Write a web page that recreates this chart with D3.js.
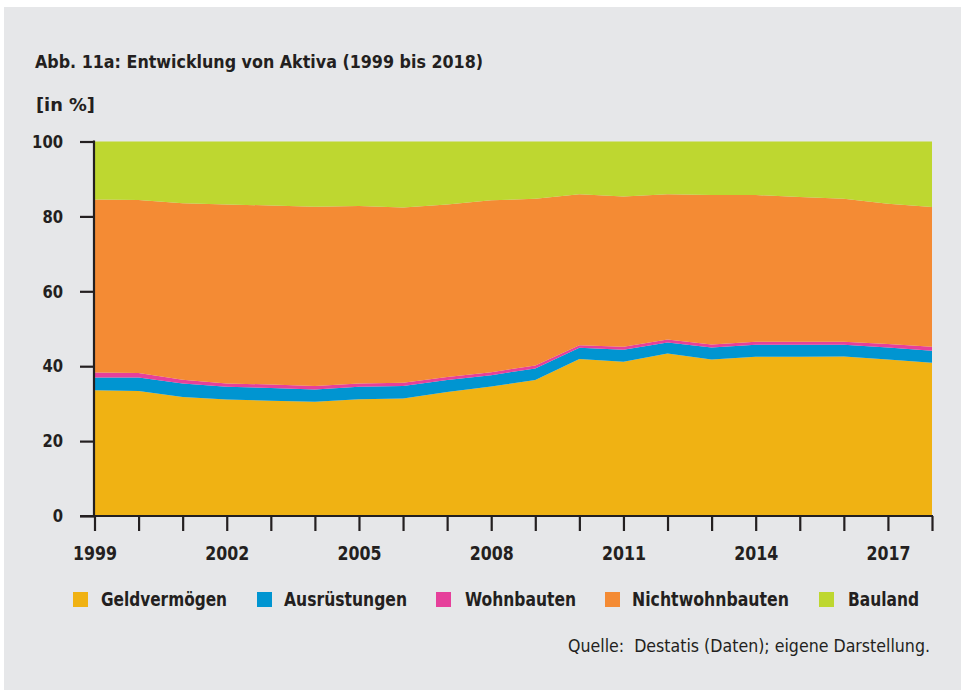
<!DOCTYPE html>
<html><head><meta charset="utf-8">
<script src="https://cdn.jsdelivr.net/npm/d3@7"></script>
<style>
html,body{margin:0;padding:0;background:#fff;}
svg{display:block;}
</style></head>
<body>
<svg id="chart" width="961" height="690"></svg>
<script>
const years = [1999,2000,2001,2002,2003,2004,2005,2006,2007,2008,2009,2010,2011,2012,2013,2014,2015,2016,2017,2018];
const geldvermoegen   = [33.6,33.4,31.8,31.1,30.8,30.5,31.2,31.4,33.1,34.6,36.3,41.9,41.2,43.4,41.8,42.5,42.5,42.6,41.8,40.9];
const ausruestungen   = [3.4,3.6,3.6,3.4,3.4,3.3,3.3,3.3,3.2,3.0,3.1,3.0,3.2,2.9,3.2,3.2,3.2,3.1,3.2,3.2];
const wohnbauten      = [1.3,1.2,1.0,0.9,0.9,0.9,0.9,0.9,0.8,0.8,0.8,0.7,0.8,0.8,0.8,0.8,0.8,0.8,0.9,1.1];
const nichtwohnbauten = [46.2,46.2,47.1,47.8,47.8,47.9,47.4,46.8,46.1,45.9,44.5,40.3,40.1,38.8,39.9,39.2,38.7,38.2,37.5,37.3];
const bauland         = [15.5,15.6,16.5,16.8,17.1,17.4,17.2,17.6,16.8,15.7,15.3,14.1,14.7,14.1,14.3,14.3,14.8,15.3,16.6,17.5];
const seriesNames = ["Geldvermögen","Ausrüstungen","Wohnbauten","Nichtwohnbauten","Bauland"];
const seriesColors = ["#f0b213","#0095d1","#e6409b","#f48b34","#bed730"];
const yTicks = [0,20,40,60,80,100];
const xLabelYears = [1999,2002,2005,2008,2011,2014,2017];

const svg = d3.select("#chart");
const boldFont = "'DejaVu Sans Condensed','DejaVu Sans',sans-serif";
const regFont = "'DejaVu Sans Condensed','DejaVu Sans',sans-serif";
const ink = "#231f20";

function fit(sel, w){
  sel.attr("textLength", w).attr("lengthAdjust","spacingAndGlyphs");
  return sel;
}

svg.append("rect").attr("x",4).attr("y",7).attr("width",957).attr("height",683).attr("fill","#e6e7e9");

const x = d3.scaleLinear().domain([1999,2018]).range([94.5,932]);
const y = d3.scaleLinear().domain([0,100]).range([516,141.5]);

const table = years.map((yr,i)=>({
  year: yr,
  "Geldvermögen": geldvermoegen[i],
  "Ausrüstungen": ausruestungen[i],
  "Wohnbauten": wohnbauten[i],
  "Nichtwohnbauten": nichtwohnbauten[i],
  "Bauland": bauland[i]
}));
table.forEach(d=>{
  const s = seriesNames.reduce((a,k)=>a+d[k],0);
  seriesNames.forEach(k=>d[k]=d[k]*100/s);
});

const stacked = d3.stack().keys(seriesNames)(table);
const area = d3.area().x(d=>x(d.data.year)).y0(d=>y(d[0])).y1(d=>y(d[1]));

svg.append("g").selectAll("path").data(stacked).join("path")
  .attr("d",area).attr("fill",(d,i)=>seriesColors[i]);

// y axis
const yAxis = d3.axisLeft(y).tickValues(yTicks).tickSize(14).tickFormat(d3.format("d")).tickPadding(17);
const gy = svg.append("g").attr("transform","translate(94,0)").call(yAxis);
gy.select(".domain").remove();
gy.append("line").attr("x1",0).attr("x2",0).attr("y1",y(100)-1).attr("y2",y(0)+1).attr("stroke",ink).attr("stroke-width",2.2);
gy.selectAll(".tick line").attr("stroke",ink).attr("stroke-width",2.2);
gy.selectAll(".tick text").attr("fill",ink).style("font-family",boldFont).style("font-weight","bold").style("font-size","18px")
  .each(function(d){ const s=String(d); d3.select(this).attr("textLength", s.length*10.3).attr("lengthAdjust","spacingAndGlyphs"); });

// x axis
const xAxis = d3.axisBottom(x).tickValues(years).tickSize(15).tickFormat(d=> xLabelYears.includes(d)? String(d):"").tickPadding(16);
const gx = svg.append("g").attr("transform","translate(0,516)").call(xAxis);
gx.select(".domain").remove();
gx.append("line").attr("x1",80).attr("x2",933).attr("y1",0).attr("y2",0).attr("stroke",ink).attr("stroke-width",2.2);
gx.selectAll(".tick line").attr("stroke",ink).attr("stroke-width",2.2);
gx.selectAll(".tick text").attr("fill",ink).style("font-family",boldFont).style("font-weight","bold").style("font-size","19px")
  .filter(d=>xLabelYears.includes(d)).attr("textLength",44).attr("lengthAdjust","spacingAndGlyphs");

// title
fit(svg.append("text").attr("x",35).attr("y",68).text("Abb. 11a: Entwicklung von Aktiva (1999 bis 2018)")
  .attr("fill",ink).style("font-family",boldFont).style("font-weight","bold").style("font-size","18px"), 448);
fit(svg.append("text").attr("x",36).attr("y",111).text("[in %]")
  .attr("fill",ink).style("font-family",boldFont).style("font-weight","bold").style("font-size","18px"), 59);

// legend
const legendX = [73,257,436,605,819];
const legendTextX = [101,284,465,632,848];
const legendW = [126,123,111,157,71];
const lg = svg.append("g");
seriesNames.forEach((n,i)=>{
  lg.append("rect").attr("x",legendX[i]).attr("y",592).attr("width",15).attr("height",15).attr("fill",seriesColors[i]);
  fit(lg.append("text").attr("x",legendTextX[i]).attr("y",606).text(n)
    .attr("fill",ink).style("font-family",boldFont).style("font-weight","bold").style("font-size","19px"), legendW[i]);
});

fit(svg.append("text").attr("x",568).attr("y",652)
  .text("Quelle:  Destatis (Daten); eigene Darstellung.")
  .attr("fill",ink).attr("xml:space","preserve").style("white-space","pre")
  .style("font-family",regFont).style("font-size","17px"), 362);
</script>
</body></html>
